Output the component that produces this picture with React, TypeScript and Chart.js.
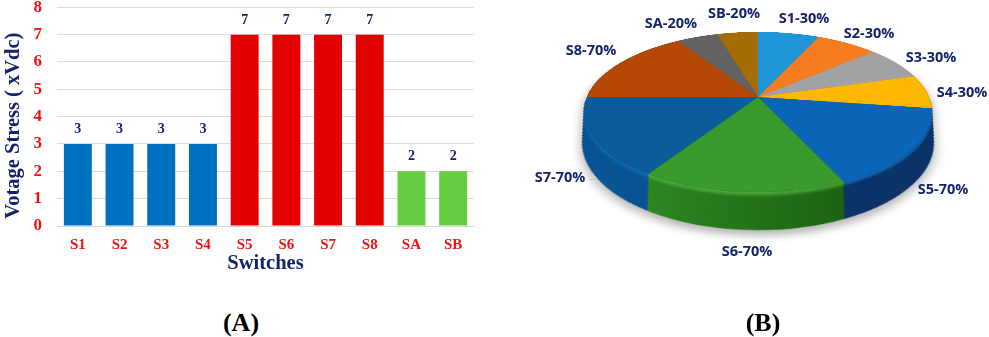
import React, { useEffect, useRef } from "react";
import { Chart, registerables } from "chart.js";

Chart.register(...registerables);

const switches = ["S1", "S2", "S3", "S4", "S5", "S6", "S7", "S8", "SA", "SB"];
const stressValues = [3, 3, 3, 3, 7, 7, 7, 7, 2, 2];
const yTicks = [0, 1, 2, 3, 4, 5, 6, 7, 8];
const barColors = ["#0070c0", "#0070c0", "#0070c0", "#0070c0", "#e20000", "#e20000", "#e20000", "#e20000", "#66cc42", "#66cc42"];

const pieShares = [30, 30, 30, 30, 70, 70, 70, 70, 20, 20];
const pieTop = ["#1f96d8", "#f67c20", "#a2a2a2", "#fdb800", "#0a64b8", "#399a2d", "#0b5c98", "#b54804", "#636363", "#a56c08"];
const pieRim = ["#125a84", "#964c12", "#636363", "#9a7000", "#0c3468", "#1f6616", "#0a5494", "#6e2c02", "#3c3c3c", "#644204"];
const pieBevel = ["#2ba4e6", "#ff9040", "#b8b8b8", "#ffc820", "#1a84dc", "#5abd42", "#1278c4", "#cc5a10", "#767676", "#b88018"];
const pieLabels = ["S1-30%", "S2-30%", "S3-30%", "S4-30%", "S5-70%", "S6-70%", "S7-70%", "S8-70%", "SA-20%", "SB-20%"];
const pieLabelPos = [[804, 17], [869, 32], [931, 56], [962, 91], [943, 188], [747, 250], [560, 176], [591, 49], [671, 22], [734, 12]];

const NAVY = "#14246a";
const SERIF = "'Liberation Serif', serif";
const SANS = "'Open Sans', sans-serif";
const PIE_SIZE = 480;
const PIE_RADIUS = 171;
const PIE_TRANSFORM = "perspective(813px) rotateX(63.15deg)";
const RIM_LAYERS = 62;
const RIM_SHRINK = 0.06;
const BEVEL_LAYERS = 10;

const barLabelPlugin = {
  id: "barLabels",
  beforeDraw(chart: any) {
    const y = chart.scales.y;
    if (!y.__shifted) {
      y.__shifted = true;
      const original = y.drawTitle;
      y.drawTitle = function (...args: any[]) {
        const top = this.top;
        this.top = top + 18;
        original.apply(this, args);
        this.top = top;
      };
    }
  },
  afterDatasetsDraw(chart: any) {
    const { ctx } = chart;
    ctx.save();
    ctx.font = `bold 14px ${SERIF}`;
    ctx.fillStyle = NAVY;
    ctx.textAlign = "center";
    ctx.textBaseline = "middle";
    chart.getDatasetMeta(0).data.forEach((bar: any, i: number) => {
      ctx.fillText(String(stressValues[i]), bar.x, bar.y - 14.5);
    });
    ctx.restore();
  },
};

const rimPlugin = {
  id: "rim",
  beforeDatasetsDraw(chart: any) {
    const { ctx } = chart;
    const arcs = chart.getDatasetMeta(0).data;
    const cx = chart.width / 2, cy = chart.height / 2;
    const greenRim = ctx.createLinearGradient(cx - 125, 0, cx + 125, 0);
    greenRim.addColorStop(0, "#348c28");
    greenRim.addColorStop(0.35, "#277a1c");
    greenRim.addColorStop(1, "#185610");
    const paint = (arc: any, color: any, alpha: number) => {
      const saved = arc.options;
      arc.options = { ...saved, backgroundColor: color, borderWidth: 0 };
      ctx.globalAlpha = alpha;
      arc.draw(ctx);
      arc.options = saved;
    };
    for (let i = RIM_LAYERS; i >= 0; i--) {
      const f = i / RIM_LAYERS;
      ctx.save();
      ctx.translate(cx, cy + i);
      ctx.scale(1 - f * RIM_SHRINK, 1 - f * RIM_SHRINK);
      ctx.translate(-cx, -cy);
      arcs.forEach((arc: any, k: number) => {
        paint(arc, k === 5 ? greenRim : pieRim[k], 1);
        if (i < BEVEL_LAYERS) paint(arc, pieBevel[k], 1 - i / BEVEL_LAYERS);
      });
      ctx.restore();
    }
  },
};

function usePie(ref: React.RefObject<HTMLCanvasElement | null>, colors: string[], plugins: any[]) {
  useEffect(() => {
    if (!ref.current) return;
    const chart = new Chart(ref.current, {
      type: "pie",
      data: {
        labels: switches,
        datasets: [{ data: pieShares, backgroundColor: colors, borderWidth: 0 }],
      },
      options: {
        animation: false,
        responsive: false,
        radius: PIE_RADIUS,
        layout: { padding: 0 },
        plugins: { legend: { display: false }, tooltip: { enabled: false } },
      } as any,
      plugins,
    });
    return () => chart.destroy();
  }, []);
}

export default function App() {
  const barRef = useRef<HTMLCanvasElement>(null);
  const rimRef = useRef<HTMLCanvasElement>(null);
  const topRef = useRef<HTMLCanvasElement>(null);

  useEffect(() => {
    if (!barRef.current) return;
    const chart = new Chart(barRef.current, {
      type: "bar",
      data: {
        labels: switches,
        datasets: [{ data: stressValues, backgroundColor: barColors, barPercentage: 0.67, categoryPercentage: 1 }],
      },
      options: {
        animation: false,
        responsive: false,
        layout: { padding: { top: 7.3, right: 26, left: 0, bottom: 0 } },
        plugins: { legend: { display: false }, tooltip: { enabled: false } },
        scales: {
          x: {
            afterFit: (s: any) => { s.height = 50; s.paddingLeft = 0; s.paddingRight = 0; },
            grid: { display: false, drawTicks: false },
            border: { display: true, color: "#d9d9d9" },
            ticks: { color: "#f01010", font: { family: SERIF, weight: "bold", size: 15 }, padding: 10, maxRotation: 0 },
            title: { display: true, text: "Switches", color: NAVY, font: { family: SERIF, weight: "bold", size: 20.5 }, padding: 0 },
          },
          y: {
            min: 0,
            max: 8,
            afterFit: (s: any) => { s.width = 57; s.paddingTop = 0; s.paddingBottom = 0; },
            afterBuildTicks: (s: any) => { s.ticks = yTicks.map((value) => ({ value })); },
            grid: { color: "#dcdcdc", lineWidth: 1, drawTicks: false },
            border: { display: false },
            ticks: { color: "#f01010", font: { family: SERIF, weight: "bold", size: 17 }, padding: 15 },
            title: { display: true, text: "Votage Stress ( xVdc)", color: NAVY, font: { family: SERIF, weight: "bold", size: 20.5 }, padding: 1 },
          },
        },
      } as any,
      plugins: [barLabelPlugin],
    });
    return () => chart.destroy();
  }, []);

  usePie(rimRef, pieRim, [rimPlugin]);
  usePie(topRef, pieTop, []);

  const pieStyle: React.CSSProperties = {
    position: "absolute",
    left: 758 - PIE_SIZE / 2,
    top: 97 - PIE_SIZE / 2,
    width: PIE_SIZE,
    height: PIE_SIZE,
    transform: PIE_TRANSFORM,
    transformOrigin: "50% 50%",
  };
  const textStyle: React.CSSProperties = { position: "absolute", transform: "translate(-50%, -50%)", whiteSpace: "nowrap" };

  return (
    <div style={{ position: "fixed", left: 0, top: 0, width: 989, height: 337, overflow: "hidden", background: "#fff", filter: "blur(0.3px)" }}>
      <canvas ref={barRef} width={500} height={276} style={{ position: "absolute", left: 0, top: 0, width: 500, height: 276 }} />
      <canvas ref={rimRef} width={PIE_SIZE} height={PIE_SIZE} style={{ ...pieStyle, filter: "drop-shadow(0 7px 5px rgba(0,0,0,0.28))" }} />
      <canvas ref={topRef} width={PIE_SIZE} height={PIE_SIZE} style={pieStyle} />
      {pieLabels.map((label, i) => (
        <div key={label} style={{ ...textStyle, left: pieLabelPos[i][0], top: pieLabelPos[i][1], font: `700 14.5px ${SANS}`, color: NAVY }}>
          {label}
        </div>
      ))}
      <div style={{ position: "absolute", left: 589, top: 176, width: 6, height: 3, borderBottom: "1px solid #b8d0b8", borderRight: "1px solid #b8d0b8" }} />
      <div style={{ ...textStyle, left: 241, top: 323, font: `bold 26px ${SERIF}`, color: "#000" }}>(A)</div>
      <div style={{ ...textStyle, left: 763, top: 323, font: `bold 26px ${SERIF}`, color: "#000" }}>(B)</div>
    </div>
  );
}
